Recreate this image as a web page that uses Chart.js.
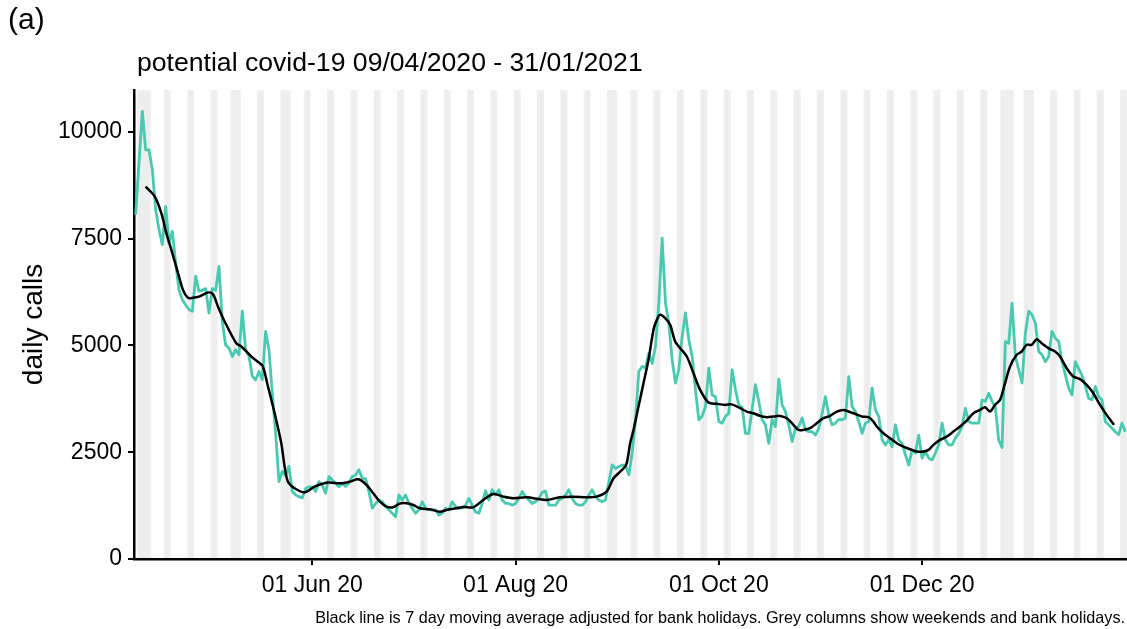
<!DOCTYPE html>
<html>
<head>
<meta charset="utf-8">
<script src="https://cdn.jsdelivr.net/npm/chart.js@4/dist/chart.umd.min.js"></script>
<style>
  body { margin: 0; background: #fff; }
  #wrap { position: relative; width: 1127px; height: 629px; font-family: "Liberation Sans", Arial, sans-serif; color: #000; }
  #wrap canvas { position: absolute; left: 0; top: 0; }
  .txt { position: absolute; white-space: nowrap; line-height: 1; }
  #panel { left: 8px; top: 4px; font-size: 30px; }
  #title { left: 137px; top: 49px; font-size: 26.6px; }
  #caption { right: 2px; top: 609px; font-size: 16.2px; }
</style>
</head>
<body>
<div id="wrap">
  <canvas id="callsChart" width="1127" height="629"></canvas>
  <div class="txt" id="panel">(a)</div>
  <div class="txt" id="title">potential covid-19 09/04/2020 - 31/01/2021</div>
  <div class="txt" id="caption">Black line is 7 day moving average adjusted for bank holidays. Grey columns show weekends and bank holidays.</div>
</div>
<script>
// DATA (day 0 = 09/04/2020)
const startDate = [2020, 3, 9];
const bankHolidays = ['2020-04-10', '2020-04-13', '2020-05-08', '2020-05-25', '2020-08-31', '2020-12-25', '2020-12-28', '2021-01-01'];

const dailyCalls = [
  8060, 9280, 10480, 9580, 9580, 9110, 8180, 7710, 7360, 8250,
  7400, 7670, 6930, 6300, 6070, 5950, 5840, 5800, 6620, 6270,
  6290, 6330, 5760, 6330, 6290, 6850, 5550, 5010, 4940, 4740,
  4900, 4780, 5800, 4900, 4750, 4280, 4190, 4390, 4200, 5330,
  4900, 3880, 2950, 1810, 2050, 1950, 2170, 1580, 1500, 1460,
  1430, 1650, 1690, 1690, 1580, 1810, 1730, 1540, 1930, 1850,
  1770, 1690, 1770, 1700, 1780, 1930, 1960, 2090, 1890, 1880,
  1580, 1190, 1300, 1380, 1340, 1230, 1150, 1070, 990, 1500,
  1380, 1500, 1300, 1190, 1070, 1150, 1340, 1190, 1150, 1150,
  1150, 1030, 1070, 1190, 1150, 1340, 1230, 1190, 1190, 1260,
  1420, 1260, 1100, 1070, 1300, 1600, 1380, 1620, 1500, 1620,
  1380, 1300, 1300, 1260, 1300, 1420, 1580, 1460, 1380, 1300,
  1340, 1420, 1560, 1590, 1260, 1260, 1260, 1380, 1420, 1500,
  1620, 1420, 1300, 1260, 1260, 1340, 1500, 1620, 1460, 1380,
  1340, 1380, 1800, 2200, 2120, 2160, 2200, 2200, 1970, 2480,
  3260, 4390, 4510, 4470, 4820, 4580, 4980, 5990, 7510, 5990,
  5520, 4660, 4120, 4430, 5210, 5760, 5130, 4740, 3960, 3260,
  3340, 3570, 4470, 3840, 3800, 3220, 3180, 3340, 3410, 4430,
  3960, 3600, 3550, 2940, 2940, 3500, 4080, 3690, 3260, 3140,
  2710, 3260, 3100, 4210, 3610, 3450, 3140, 2750, 3060, 3100,
  3300, 3020, 2980, 2980, 2900, 3060, 3400, 3800, 3370, 3140,
  3180, 3270, 3260, 3300, 4270, 3570, 3450, 3220, 2940, 3180,
  3220, 4000, 3490, 3340, 2790, 2670, 2790, 2630, 3140, 2790,
  2700, 2440, 2200, 2550, 2480, 2900, 2360, 2510, 2360, 2320,
  2480, 2670, 3180, 2790, 2670, 2670, 2830, 2940, 3100, 3530,
  3220, 3180, 3180, 3180, 3720, 3690, 3880, 3690, 3550, 2780,
  2610, 5090, 5050, 5990, 4740, 4430, 4120, 5290, 5800, 5720,
  5520, 4860, 4780, 4620, 4740, 5330, 5170, 5090, 4620, 4310,
  4000, 3840, 4620, 4450, 4300, 4040, 3760, 3730, 4040, 3800,
  3730, 3220, 3140, 3060, 2980, 2910, 3180, 2980
];

// 7 day moving average, read at these day positions
const maDays = [
  3, 5.7, 7.7, 9.2, 10.7, 12.7, 14.2, 15.7, 17.2, 19.2,
  21.7, 23.2, 24.7, 26.7, 30.2, 31.7, 34.7, 37.2, 38.2, 39.7,
  41.7, 43.7, 44.7, 45.7, 47.7, 50.7, 53.7, 57.7, 61.3, 64.3,
  66.8, 69.3, 71.3, 73.3, 75.3, 77.3, 79.3, 81.3, 83.3, 85.3,
  88.3, 91.3, 93.3, 96.3, 98.3, 101.3, 104.3, 107.3, 110.3, 113.3,
  117.3, 121.3, 123.3, 127.3, 131.3, 135.3, 138.3, 141.3, 143.4, 145.4,
  147.2, 148.4, 149.4, 150.9, 152.4, 153.9, 155.4, 156.4, 157.4, 158.9,
  160.4, 161.9, 163.4, 165.4, 167.4, 169.4, 171.9, 174.4, 176.9, 178.9,
  181.4, 183.4, 185.4, 187.4, 189.4, 191.4, 193.4, 195.4, 197.4, 198.9,
  200.4, 202.4, 204.4, 206.4, 208.4, 210.4, 212.4, 213.9, 215.9, 217.9,
  219.9, 221.4, 222.4, 224.4, 226.4, 228.4, 230.4, 232.4, 234.4, 236.4,
  237.9, 239.4, 241.4, 243.4, 245.4, 247.4, 249.4, 251.4, 253.4, 254.9,
  256.4, 257.9, 259.4, 260.9, 262.4, 264.4, 265.9, 267.4, 268.9, 270.4,
  271.9, 273.9, 275.9, 277.4, 279.4, 281.4, 283.4, 285.4, 287.4, 289.4,
  291.4, 293.6
];
const maCalls = [
  8720, 8490, 8100, 7630, 7240, 6700, 6300, 6115, 6115, 6150,
  6240, 6200, 5910, 5560, 5050, 4975, 4740, 4585, 4505, 4040,
  3415, 2710, 2165, 1810, 1655, 1560, 1694, 1790, 1772, 1811,
  1866, 1733, 1538, 1343, 1226, 1210, 1300, 1304, 1265, 1187,
  1164, 1109, 1148, 1187, 1220, 1210, 1382, 1523, 1460, 1421,
  1444, 1398, 1382, 1444, 1460, 1444, 1460, 1577, 1890, 2046,
  2202, 2710, 3023, 3569, 4116, 4663, 5366, 5600, 5717, 5639,
  5483, 5092, 4936, 4741, 4350, 3960, 3663, 3632, 3608, 3620,
  3530, 3452, 3413, 3350, 3320, 3335, 3350, 3296, 3140, 3023,
  3023, 3062, 3179, 3296, 3350, 3452, 3491, 3452, 3400, 3335,
  3320, 3218, 3101, 2944, 2827, 2710, 2632, 2570, 2515, 2515,
  2554, 2671, 2788, 2866, 2983, 3101, 3241, 3413, 3491, 3554,
  3452, 3608, 3725, 4116, 4507, 4780, 4858, 5014, 5014, 5146,
  5053, 4936, 4858, 4741, 4467, 4272, 4210, 4077, 3881, 3608,
  3374, 3140
];

const tickDays = [53, 114, 175, 236];
const tickLabels = ['01 Jun 20', '01 Aug 20', '01 Oct 20', '01 Dec 20'];
const yTicks = [0, 2500, 5000, 7500, 10000];
const yMax = 10980;

// weekends + bank holidays -> grey columns
const greyDays = [];
for (let i = 0; i < dailyCalls.length; i++) {
  const d = new Date(Date.UTC(startDate[0], startDate[1], startDate[2] + i));
  const iso = d.toISOString().slice(0, 10);
  const dow = d.getUTCDay();
  if (dow === 0 || dow === 6 || bankHolidays.includes(iso)) greyDays.push(i);
}

const FONT = '"Liberation Sans", Arial, sans-serif';

new Chart(document.getElementById('callsChart'), {
  data: {
    datasets: [
      {
        type: 'bar',
        data: greyDays.map(d => ({ x: d, y: yMax })),
        backgroundColor: 'rgba(190,190,190,0.25)',
        borderWidth: 0,
        barPercentage: 1.1,
        categoryPercentage: 1,
        order: 3
      },
      {
        type: 'line',
        data: dailyCalls.map((v, i) => ({ x: i, y: v })),
        borderColor: '#48c9b0',
        borderWidth: 2.8,
        pointRadius: 0,
        tension: 0,
        borderJoinStyle: 'round',
        order: 2
      },
      {
        type: 'line',
        data: maDays.map((d, i) => ({ x: d, y: maCalls[i] })),
        borderColor: '#000',
        borderWidth: 2.5,
        pointRadius: 0,
        tension: 0.3,
        borderJoinStyle: 'round',
        order: 1
      }
    ]
  },
  options: {
    responsive: false,
    animation: false,
    devicePixelRatio: 1,
    layout: { padding: { top: 90, left: 0, right: 0, bottom: 0 } },
    plugins: { legend: { display: false }, tooltip: { enabled: false }, title: { display: false } },
    scales: {
      x: {
        type: 'linear',
        min: -0.5,
        max: 297.5,
        offset: false,
        afterBuildTicks: s => { s.ticks = tickDays.map(v => ({ value: v })); },
        afterFit: s => { s.height = 70; },
        ticks: {
          autoSkip: false,
          maxRotation: 0,
          padding: 7,
          color: '#000',
          font: { family: FONT, size: 23 },
          callback: (v, i) => tickLabels[i]
        },
        grid: { offset: false, drawOnChartArea: false, drawTicks: true, tickLength: 6, color: '#000', lineWidth: 2 },
        border: { display: true, color: '#000', width: 2.5 }
      },
      y: {
        type: 'linear',
        min: 0,
        max: yMax,
        afterBuildTicks: s => { s.ticks = yTicks.map(v => ({ value: v })); },
        afterFit: s => { s.width = 134; },
        ticks: {
          padding: 6,
          color: '#000',
          font: { family: FONT, size: 23 },
          callback: v => String(v)
        },
        title: {
          display: true,
          text: 'daily calls',
          color: '#000',
          font: { family: FONT, size: 28 },
          padding: { top: 17, bottom: 0 }
        },
        grid: { drawOnChartArea: false, drawTicks: true, tickLength: 6, color: '#000', lineWidth: 2 },
        border: { display: true, color: '#000', width: 2.5 }
      }
    }
  }
});
</script>
</body>
</html>
